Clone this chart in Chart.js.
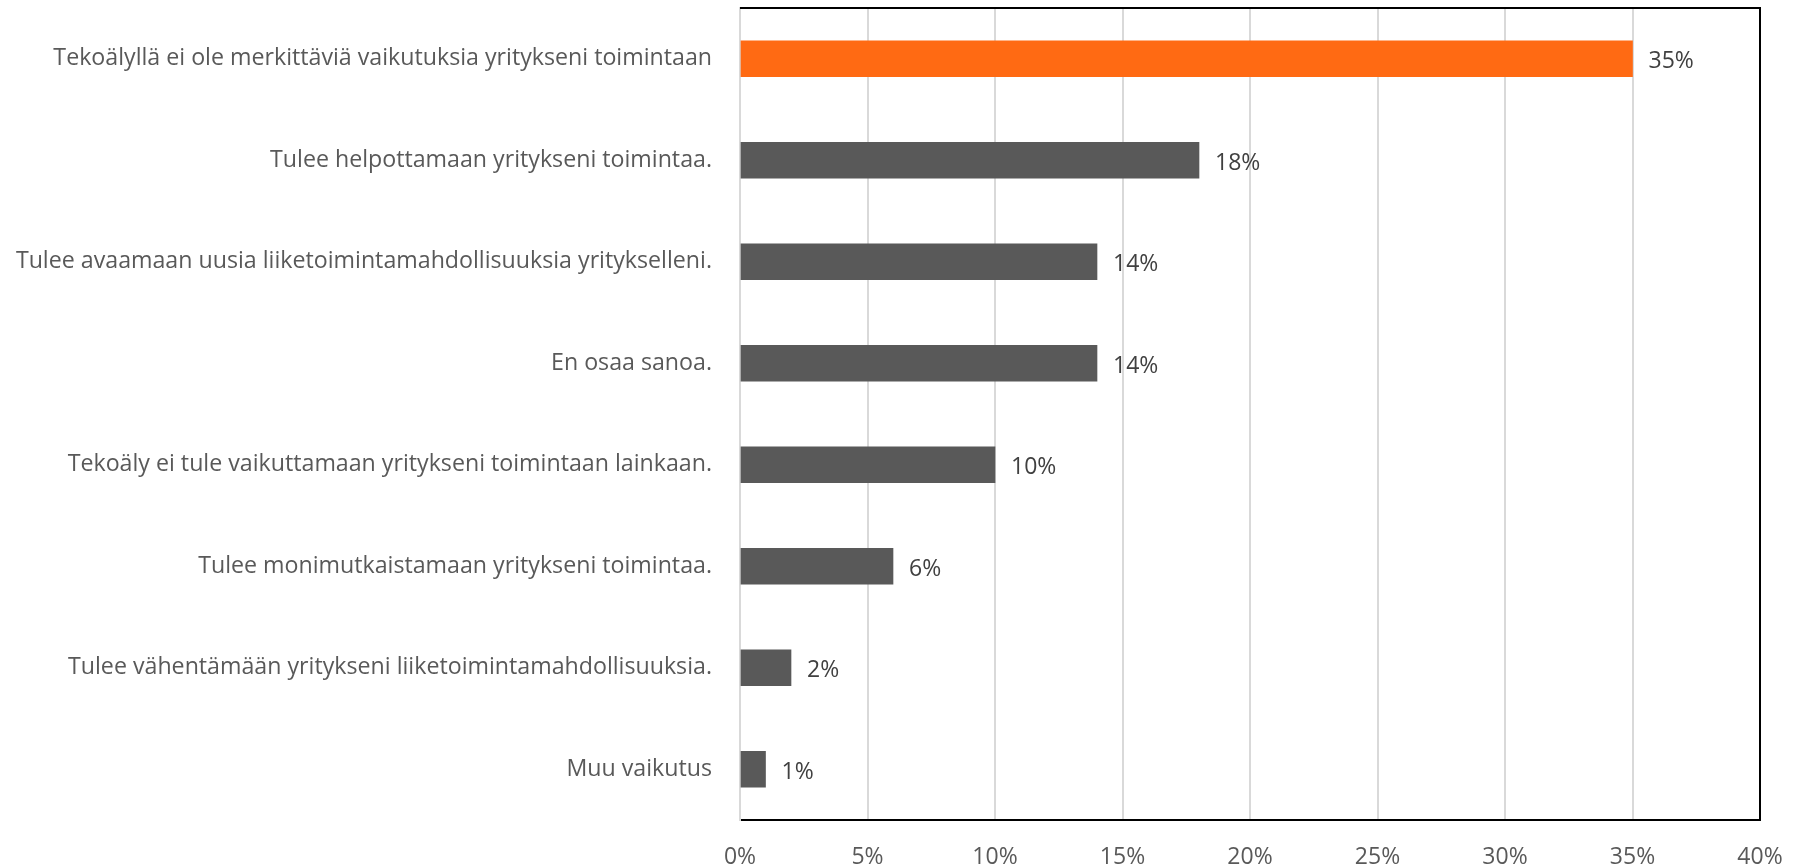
<!DOCTYPE html>
<html>
<head>
<meta charset="utf-8">
<script src="https://cdn.jsdelivr.net/npm/chart.js@4.4.0/dist/chart.umd.min.js"></script>
<style>
  html, body { margin: 0; padding: 0; background: #fff; }
  #wrap { width: 1794px; height: 868px; }
</style>
</head>
<body>
<div id="wrap"><canvas id="myChart" width="1794" height="868"></canvas></div>
<script>
const categories = [
  "Tekoälyllä ei ole merkittäviä vaikutuksia yritykseni toimintaan",
  "Tulee helpottamaan yritykseni toimintaa.",
  "Tulee avaamaan uusia liiketoimintamahdollisuuksia yritykselleni.",
  "En osaa sanoa.",
  "Tekoäly ei tule vaikuttamaan yritykseni toimintaan lainkaan.",
  "Tulee monimutkaistamaan yritykseni toimintaa.",
  "Tulee vähentämään yritykseni liiketoimintamahdollisuuksia.",
  "Muu vaikutus"
];
const shares = [35, 18, 14, 14, 10, 6, 2, 1];
const xTicks = [0, 5, 10, 15, 20, 25, 30, 35, 40];

const fontFamily = "'Open Sans', sans-serif";
const barColors = shares.map((v, i) => i === 0 ? "#ff6a13" : "#595959");

// draws the % values next to the bars and the black frame on top / right
const valueLabels = {
  id: "valueLabels",
  afterDatasetsDraw(chart) {
    const ctx = chart.ctx;
    const meta = chart.getDatasetMeta(0);
    ctx.save();
    ctx.font = "23px " + fontFamily;
    ctx.fillStyle = "#404040";
    ctx.textAlign = "left";
    ctx.textBaseline = "middle";
    meta.data.forEach((bar, i) => {
      ctx.fillText(shares[i] + "%", bar.x + 16, bar.y + 3);
    });
    const a = chart.chartArea;
    ctx.strokeStyle = "#000";
    ctx.lineWidth = 2;
    ctx.beginPath();
    ctx.moveTo(a.left, a.top);
    ctx.lineTo(a.right, a.top);
    ctx.lineTo(a.right, a.bottom);
    ctx.stroke();
    ctx.restore();
  }
};

const config = {
  type: "bar",
  data: {
    labels: categories,
    datasets: [{
      data: shares,
      backgroundColor: barColors,
      barThickness: 36
    }]
  },
  options: {
    indexAxis: "y",
    responsive: false,
    animation: false,
    layout: { padding: { top: 8, right: 34, left: 0, bottom: 0 } },
    plugins: {
      legend: { display: false },
      tooltip: { enabled: false }
    },
    scales: {
      x: {
        min: 0,
        max: 40,
        afterBuildTicks: (axis) => { axis.ticks = xTicks.map(v => ({ value: v })); },
        afterFit: (axis) => {
          axis.height = 48;
          axis.paddingLeft = 0;
          axis.paddingRight = 0;
        },
        grid: { color: "#d9d9d9", lineWidth: 2, drawTicks: false },
        border: { display: true, color: "#000", width: 2 },
        ticks: {
          padding: 24,
          maxRotation: 0,
          color: "#595959",
          font: { family: fontFamily, size: 23 },
          callback: (v) => v + "%"
        }
      },
      y: {
        afterFit: (axis) => {
          axis.width = 740;
          axis.paddingTop = 0;
          axis.paddingBottom = 0;
        },
        grid: { display: false, drawTicks: false },
        border: { display: true, color: "#d9d9d9", width: 2 },
        ticks: {
          padding: 28,
          color: "#595959",
          font: { family: fontFamily, size: 23.2 }
        }
      }
    }
  },
  plugins: [valueLabels]
};

const myChart = new Chart(document.getElementById("myChart").getContext("2d"), config);
</script>
</body>
</html>
